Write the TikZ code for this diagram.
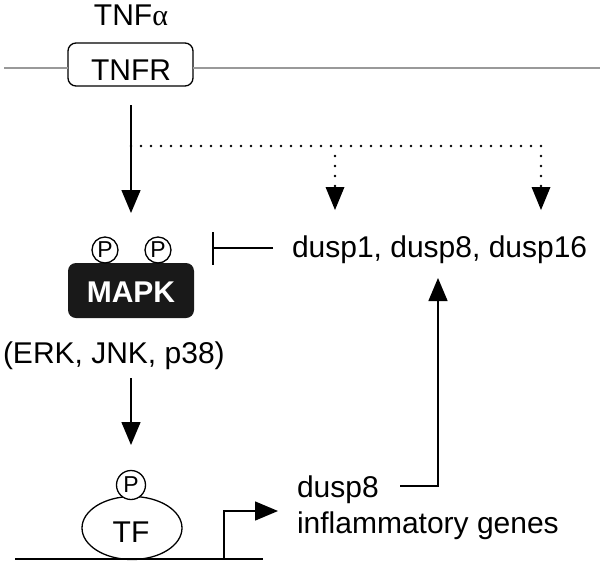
\documentclass[tikz,border=0pt]{standalone}
\usepackage{fontspec}
\setmainfont{Liberation Sans}
\newfontfamily\greekserif{Liberation Serif}
\usetikzlibrary{arrows.meta,shapes.geometric}
\begin{document}
\begin{tikzpicture}[x=1pt,y=-1pt,
  line width=1.5pt,
  every node/.style={inner sep=0pt, outer sep=0pt},
  lbl/.style={font=\fontsize{30}{36}\selectfont},
  arr/.style={-{Triangle[width=19pt,length=23pt]}},
  dots/.style={line width=2.6pt, dash pattern=on 0pt off 10pt, line cap=round},
  pcirc/.style={circle, draw, fill=white, line width=1.3pt, font=\fontsize{23}{26}\selectfont},
  mem/.style={draw=gray!80, line width=1.2pt}]
\useasboundingbox (0,0) rectangle (600,563);
% membrane and receptor
\node[draw, rounded corners=8pt, line width=1.3pt, minimum width=125pt, minimum height=43pt] (tnfr) at (130.5,64.5) {};
\node[lbl, anchor=base] (tnfrl) at (131,80) {TNFR};
\node[lbl, anchor=base] (tnfa) at (131,25) {TNF{\greekserif α}};
\coordinate (memL) at (4,68);
\coordinate (memR) at (600,68);
\draw[mem] (memL) -- (tnfr.west |- memL);
\draw[mem] (tnfr.east |- memR) -- (memR);
% MAPK
\node[fill=black!90, rounded corners=8pt, minimum width=126pt, minimum height=55pt] (mapk) at (131,290.5) {};
\node[lbl, anchor=base, text=white, font=\fontsize{30}{36}\selectfont\bfseries] (mapkl) at (131,302) {MAPK};
\node[pcirc, minimum size=26pt] (p1) at (105,250) {P};
\node[pcirc, minimum size=26pt] (p2) at (158,250) {P};
\node[lbl, anchor=base west] (erk) at (3,363) {(ERK, JNK, p38)};
% dusps
\node[lbl, anchor=base west] (dusps) at (292,257) {dusp1, dusp8, dusp16};
% TF
\node[draw, ellipse, line width=1.3pt, minimum width=100pt, minimum height=63pt] (tf) at (132,528) {};
\node[lbl, anchor=base] (tfl) at (131,542) {TF};
\node[pcirc, minimum size=29pt] (p3) at (131,485) {P};
% genes
\node[lbl, anchor=base west] (d8) at (297,497) {dusp8};
\node[lbl, anchor=base west] (infl) at (297,533) {inflammatory genes};
% arrows
\coordinate (a1s) at (131,105);
\coordinate (a1e) at (131,213);
\draw[arr] (a1s) -- (a1e);
\coordinate (dS) at (131,146);
\coordinate (dM) at (335,146);
\coordinate (dR) at (541,146);
\coordinate (dMe) at (335,210);
\coordinate (dRe) at (541,210);
\draw[dots] (dS) -- (dR) -- ([yshift=22pt]dRe);
\draw[dots] ([yshift=-10pt]dM) -- ([yshift=22pt]dMe);
\fill ([xshift=-9.5pt,yshift=23pt]dMe) -- ([xshift=9.5pt,yshift=23pt]dMe) -- (dMe) -- cycle;
\fill ([xshift=-9.5pt,yshift=23pt]dRe) -- ([xshift=9.5pt,yshift=23pt]dRe) -- (dRe) -- cycle;
\coordinate (inhS) at (273,248);
\coordinate (inhE) at (212,248);
\draw[-{Bar[width=33pt,line width=1.5pt]}] (inhS) -- (inhE);
\coordinate (a2s) at (131,378);
\coordinate (a2e) at (131,445);
\draw[arr] (a2s) -- (a2e);
% DNA and promoter
\coordinate (dnaL) at (15,559);
\coordinate (dnaR) at (263,559);
\draw[line width=1.8pt] (dnaL) -- (dnaR);
\coordinate (prS) at (224,559);
\coordinate (prE) at (278,511);
\draw[arr] (prS) |- (prE);
% feedback
\coordinate (fbS) at (400,486);
\coordinate (fbE) at (438,278);
\draw[arr] (fbS) -| (fbE);
\end{tikzpicture}
\end{document}
